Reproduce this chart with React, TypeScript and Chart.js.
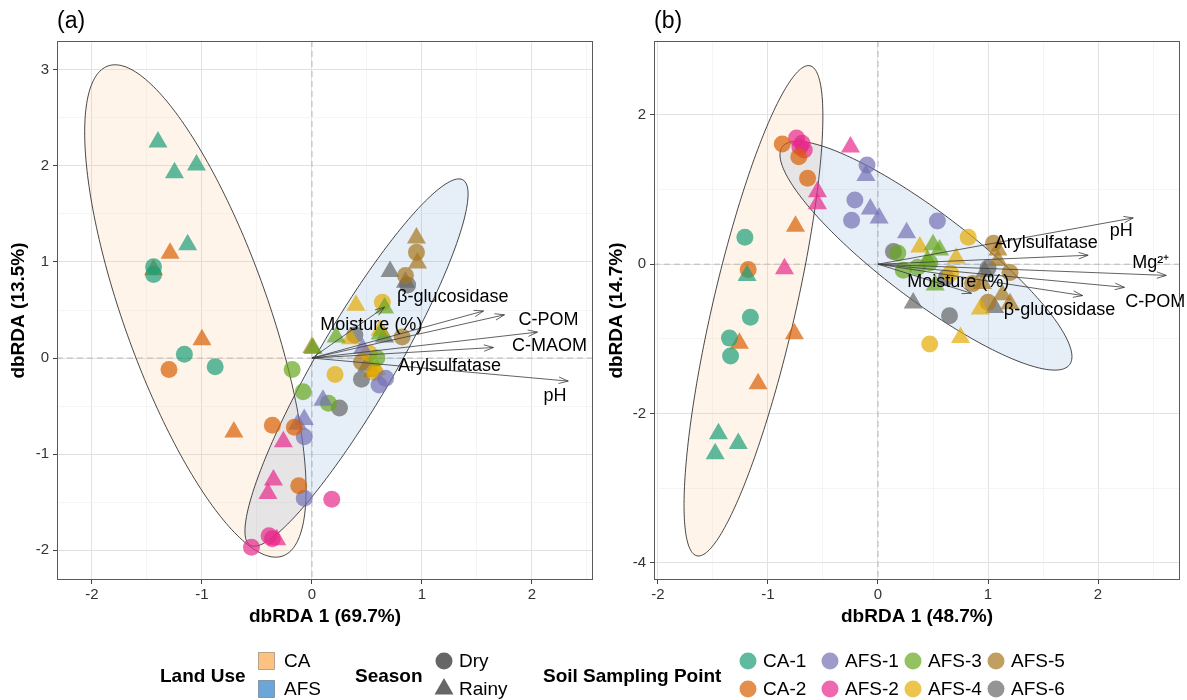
import React, { useEffect, useRef } from 'react';
import { Chart, registerables } from 'chart.js';

Chart.register(...registerables);

type Pt = [number, number, 'D' | 'R'];

const FONT = '"Liberation Sans", Arial, Helvetica, sans-serif';

const SITE_NAMES = ['CA-1', 'CA-2', 'AFS-1', 'AFS-2', 'AFS-3', 'AFS-4', 'AFS-5', 'AFS-6'];
const SITE_RGB = ['27,158,119', '217,95,2', '117,112,179', '231,41,138', '102,166,30', '230,171,2', '166,118,29', '102,102,102'];

// ---------- Panel (a) ----------
const A_CA1: Pt[] = [[-1.40, 2.25, 'R'], [-1.25, 1.93, 'R'], [-1.05, 2.01, 'R'], [-1.13, 1.18, 'R'], [-1.44, 0.95, 'D'], [-1.44, 0.87, 'D'], [-1.16, 0.04, 'D'], [-0.88, -0.09, 'D']];
const A_CA2: Pt[] = [[-1.29, 1.09, 'R'], [-1.44, 0.92, 'R'], [-1.00, 0.19, 'R'], [-0.71, -0.77, 'R'], [-1.30, -0.12, 'D'], [-0.36, -0.70, 'D'], [-0.16, -0.72, 'D'], [-0.12, -1.33, 'D']];
const A_AFS1: Pt[] = [[-0.13, -0.69, 'R'], [-0.07, -0.64, 'R'], [0.10, -0.44, 'R'], [0.46, 0.10, 'R'], [-0.07, -0.82, 'D'], [-0.07, -1.46, 'D'], [0.61, -0.28, 'D'], [0.67, -0.21, 'D']];
const A_AFS2: Pt[] = [[-0.26, -0.87, 'R'], [-0.35, -1.27, 'R'], [-0.40, -1.41, 'R'], [-0.32, -1.89, 'R'], [-0.39, -1.85, 'D'], [-0.36, -1.88, 'D'], [-0.55, -1.97, 'D'], [0.18, -1.47, 'D']];
const A_AFS3: Pt[] = [[0.01, 0.10, 'R'], [0.22, 0.22, 'R'], [0.66, 0.52, 'R'], [0.62, 0.25, 'R'], [-0.18, -0.12, 'D'], [-0.08, -0.35, 'D'], [0.15, -0.47, 'D'], [0.59, 0.00, 'D']];
const A_AFS4: Pt[] = [[0.40, 0.55, 'R'], [0.62, 0.29, 'R'], [0.35, 0.20, 'R'], [0.59, -0.12, 'R'], [0.21, -0.17, 'D'], [0.64, 0.58, 'D'], [0.57, -0.15, 'D'], [0.52, 0.05, 'D']];
const A_AFS5: Pt[] = [[0.95, 1.25, 'R'], [0.96, 0.99, 'R'], [0.00, 0.11, 'R'], [0.55, -0.14, 'R'], [0.95, 1.10, 'D'], [0.85, 0.86, 'D'], [0.82, 0.22, 'D'], [0.45, -0.04, 'D']];
const A_AFS6: Pt[] = [[0.71, 0.90, 'R'], [0.85, 0.79, 'R'], [0.66, 0.22, 'R'], [0.50, -0.08, 'R'], [0.87, 0.76, 'D'], [0.45, -0.22, 'D'], [0.25, -0.52, 'D'], [0.39, 0.24, 'D']];

const A_ARROW_NAMES = ['β-glucosidase', 'C-POM', 'C-MAOM', 'Moisture (%)', 'Arylsulfatase', 'pH'];
const A_ARROW_END = [[1.56, 0.49], [1.75, 0.45], [2.05, 0.27], [0.66, 0.53], [1.65, 0.11], [2.33, -0.24]];
const A_LABEL_POS = [[1.28, 0.63], [2.15, 0.40], [2.16, 0.13], [0.54, 0.34], [1.25, -0.08], [2.21, -0.40]];

// ellipse: [cx, cy, ux, uy, vx, vy]
const A_ELL_CA = [-1.06, 0.49, -0.795, 2.55, 0.617, 0.252];
const A_ELL_AFS = [0.405, -0.047, 0.968, 1.901, 0.303, -0.202];

// ---------- Panel (b) ----------
const B_CA1: Pt[] = [[-1.21, 0.36, 'D'], [-1.16, -0.71, 'D'], [-1.35, -0.99, 'D'], [-1.34, -1.23, 'D'], [-1.19, -0.15, 'R'], [-1.45, -2.27, 'R'], [-1.27, -2.40, 'R'], [-1.48, -2.54, 'R']];
const B_CA2: Pt[] = [[-0.87, 1.61, 'D'], [-0.72, 1.44, 'D'], [-0.64, 1.15, 'D'], [-1.18, -0.07, 'D'], [-0.75, 0.51, 'R'], [-0.76, -0.93, 'R'], [-1.26, -1.06, 'R'], [-1.09, -1.60, 'R']];
const B_AFS1: Pt[] = [[-0.10, 1.33, 'D'], [-0.21, 0.86, 'D'], [-0.24, 0.59, 'D'], [0.54, 0.58, 'D'], [-0.11, 1.19, 'R'], [-0.07, 0.74, 'R'], [0.01, 0.62, 'R'], [0.26, 0.42, 'R']];
const B_AFS2: Pt[] = [[-0.74, 1.69, 'D'], [-0.69, 1.62, 'D'], [-0.67, 1.53, 'D'], [-0.71, 1.57, 'D'], [-0.25, 1.57, 'R'], [-0.55, 0.97, 'R'], [-0.55, 0.81, 'R'], [-0.85, -0.06, 'R']];
const B_AFS3: Pt[] = [[0.18, 0.15, 'D'], [0.23, -0.08, 'D'], [0.47, 0.02, 'D'], [0.36, -0.04, 'D'], [0.50, 0.26, 'R'], [0.56, 0.19, 'R'], [0.45, 0.05, 'R'], [0.52, -0.28, 'R']];
const B_AFS4: Pt[] = [[0.82, 0.36, 'D'], [0.47, -1.07, 'D'], [0.66, -0.12, 'D'], [0.38, 0.23, 'R'], [0.71, 0.08, 'R'], [0.93, -0.60, 'R'], [0.75, -0.98, 'R']];
const B_AFS5: Pt[] = [[1.05, 0.28, 'D'], [1.20, -0.11, 'D'], [1.00, -0.51, 'D'], [0.86, -0.26, 'D'], [1.09, 0.19, 'R'], [1.09, 0.05, 'R'], [0.95, -0.26, 'R'], [1.13, -0.41, 'R'], [1.20, -0.53, 'R']];
const B_AFS6: Pt[] = [[0.14, 0.17, 'D'], [0.65, -0.69, 'D'], [1.00, -0.05, 'D'], [0.62, -0.18, 'D'], [0.32, -0.52, 'R'], [1.06, -0.58, 'R'], [0.97, -0.10, 'R']];

const B_ARROW_NAMES = ['pH', 'Arylsulfatase', 'Mg²⁺', 'C-POM', 'β-glucosidase', 'Moisture (%)'];
const B_ARROW_END = [[2.32, 0.62], [1.91, 0.12], [2.62, -0.15], [2.24, -0.31], [1.86, -0.42], [0.85, -0.39]];
const B_LABEL_POS = [[2.21, 0.44], [1.53, 0.29], [2.48, 0.01], [2.52, -0.50], [1.65, -0.62], [0.73, -0.24]];

const B_ELL_CA = [-1.132, -0.624, 0.514, 3.282, 0.366, -0.125];
const B_ELL_AFS = [0.436, 0.114, 1.305, -1.460, -0.240, -0.466];

const CA_FILL = 'rgba(253,192,134,0.175)';
const AFS_FILL = 'rgba(70,130,200,0.135)';

interface PanelCfg {
  tag: string;
  width: number;
  xMin: number; xMax: number; yMin: number; yMax: number;
  yStep: number; yMajor: number;
  xTitle: string; yTitle: string;
  yAxisWidth: number; yTitlePad: number;
  groups: Pt[][];
  ellipses: { p: number[]; fill: string }[];
  arrowEnds: number[][]; names: string[]; labelPos: number[][];
}

const PANEL_A: PanelCfg = {
  tag: '(a)', width: 600,
  xMin: -2.318, xMax: 2.555, yMin: -2.31, yMax: 3.30,
  yStep: 0.5, yMajor: 1,
  xTitle: 'dbRDA 1 (69.7%)', yTitle: 'dbRDA (13.5%)',
  yAxisWidth: 57, yTitlePad: 7,
  groups: [A_CA1, A_CA2, A_AFS1, A_AFS2, A_AFS3, A_AFS4, A_AFS5, A_AFS6],
  ellipses: [{ p: A_ELL_CA, fill: CA_FILL }, { p: A_ELL_AFS, fill: AFS_FILL }],
  arrowEnds: A_ARROW_END, names: A_ARROW_NAMES, labelPos: A_LABEL_POS,
};

const PANEL_B: PanelCfg = {
  tag: '(b)', width: 587,
  xMin: -2.036, xMax: 2.745, yMin: -4.23, yMax: 2.99,
  yStep: 1, yMajor: 2,
  xTitle: 'dbRDA 1 (48.7%)', yTitle: 'dbRDA (14.7%)',
  yAxisWidth: 54, yTitlePad: 5,
  groups: [B_CA1, B_CA2, B_AFS1, B_AFS2, B_AFS3, B_AFS4, B_AFS5, B_AFS6],
  ellipses: [{ p: B_ELL_CA, fill: CA_FILL }, { p: B_ELL_AFS, fill: AFS_FILL }],
  arrowEnds: B_ARROW_END, names: B_ARROW_NAMES, labelPos: B_LABEL_POS,
};

const isMajor = (v: number, m: number) => Math.abs(v / m - Math.round(v / m)) < 1e-6;

function decorPlugin(cfg: PanelCfg) {
  return {
    id: 'decor',
    beforeDatasetsDraw(chart: any) {
      const { ctx, chartArea: ca } = chart;
      const xs = chart.scales.x, ys = chart.scales.y;
      ctx.save();
      ctx.beginPath();
      ctx.rect(ca.left, ca.top, ca.right - ca.left, ca.bottom - ca.top);
      ctx.clip();
      // zero reference lines
      ctx.strokeStyle = '#b8b8b8';
      ctx.lineWidth = 1;
      ctx.setLineDash([6, 4]);
      ctx.beginPath();
      const x0 = xs.getPixelForValue(0);
      const y0 = ys.getPixelForValue(0);
      ctx.moveTo(x0, ca.top); ctx.lineTo(x0, ca.bottom);
      ctx.moveTo(ca.left, y0); ctx.lineTo(ca.right, y0);
      ctx.stroke();
      ctx.setLineDash([]);
      // ellipses
      for (const e of cfg.ellipses) {
        const [cx, cy, ux, uy, vx, vy] = e.p;
        ctx.beginPath();
        const N = 240;
        for (let i = 0; i <= N; i++) {
          const t = (i / N) * Math.PI * 2;
          const px = xs.getPixelForValue(cx + ux * Math.cos(t) + vx * Math.sin(t));
          const py = ys.getPixelForValue(cy + uy * Math.cos(t) + vy * Math.sin(t));
          if (i === 0) ctx.moveTo(px, py); else ctx.lineTo(px, py);
        }
        ctx.closePath();
        ctx.fillStyle = e.fill;
        ctx.fill();
        ctx.strokeStyle = '#1a1a1a';
        ctx.lineWidth = 0.8;
        ctx.stroke();
      }
      ctx.restore();
    },
    afterDatasetsDraw(chart: any) {
      const { ctx, chartArea: ca } = chart;
      const xs = chart.scales.x, ys = chart.scales.y;
      ctx.save();
      // arrows
      const ox = xs.getPixelForValue(0), oy = ys.getPixelForValue(0);
      ctx.strokeStyle = '#3a3a3a';
      ctx.lineWidth = 0.8;
      cfg.arrowEnds.forEach(([ex, ey]) => {
        const px = xs.getPixelForValue(ex), py = ys.getPixelForValue(ey);
        const ang = Math.atan2(py - oy, px - ox);
        const L = 10, a = 0.33;
        ctx.beginPath();
        ctx.moveTo(ox, oy); ctx.lineTo(px, py);
        ctx.moveTo(px - L * Math.cos(ang - a), py - L * Math.sin(ang - a));
        ctx.lineTo(px, py);
        ctx.lineTo(px - L * Math.cos(ang + a), py - L * Math.sin(ang + a));
        ctx.stroke();
      });
      // labels
      ctx.fillStyle = '#000';
      ctx.font = `18px ${FONT}`;
      ctx.textAlign = 'center';
      ctx.textBaseline = 'middle';
      cfg.names.forEach((n, i) => {
        const [lx, ly] = cfg.labelPos[i];
        ctx.fillText(n, xs.getPixelForValue(lx), ys.getPixelForValue(ly));
      });
      // panel border
      ctx.strokeStyle = '#5a5a5a';
      ctx.lineWidth = 1;
      ctx.strokeRect(ca.left + 0.5, ca.top + 0.5, ca.right - ca.left - 1, ca.bottom - ca.top - 1);
      // tag
      ctx.font = `23px ${FONT}`;
      ctx.textAlign = 'left';
      ctx.textBaseline = 'alphabetic';
      ctx.fillText(cfg.tag, ca.left, 28);
      ctx.restore();
    },
  };
}

function buildConfig(cfg: PanelCfg): any {
  const tickFont = { family: FONT, size: 15 };
  const titleFont = { family: FONT, size: 19, weight: 'bold' as const };
  const gridFor = (major: number) => ({
    color: (c: any) => (c.tick && isMajor(c.tick.value, major) ? '#e2e2e2' : '#f1f1f1'),
    lineWidth: (c: any) => (c.tick && isMajor(c.tick.value, major) ? 1 : 0.7),
    tickColor: (c: any) => (c.tick && isMajor(c.tick.value, major) ? '#444' : 'rgba(0,0,0,0)'),
    tickLength: 4,
    drawTicks: true,
  });
  return {
    type: 'scatter',
    data: {
      datasets: cfg.groups.map((g, i) => ({
        label: SITE_NAMES[i],
        data: g.map((p) => ({ x: p[0], y: p[1], s: p[2] })),
        backgroundColor: `rgba(${SITE_RGB[i]},0.7)`,
        borderWidth: 0,
        pointBorderWidth: 0,
        pointStyle: (c: any) => (c.raw && c.raw.s === 'R' ? 'triangle' : 'circle'),
        pointRadius: (c: any) => (c.raw && c.raw.s === 'R' ? 11 : 8.5),
      })),
    },
    options: {
      responsive: false,
      maintainAspectRatio: false,
      animation: false,
      events: [],
      layout: { autoPadding: false, padding: { left: 0, top: 41, right: 7, bottom: 0 } },
      plugins: { legend: { display: false }, tooltip: { enabled: false } },
      scales: {
        x: {
          type: 'linear',
          min: cfg.xMin,
          max: cfg.xMax,
          afterFit: (s: any) => { s.height = 50; s.paddingLeft = 0; s.paddingRight = 0; },
          ticks: {
            stepSize: 0.5,
            includeBounds: false,
            autoSkip: false,
            maxRotation: 0,
            padding: 2,
            color: '#333',
            font: tickFont,
            callback: (v: number) => (isMajor(v, 1) ? String(Math.round(v)) : ''),
          },
          grid: gridFor(1),
          border: { display: false },
          title: { display: true, text: cfg.xTitle, color: '#000', font: titleFont, padding: { top: 0, bottom: 2 } },
        },
        y: {
          type: 'linear',
          min: cfg.yMin,
          max: cfg.yMax,
          afterFit: (s: any) => { s.width = cfg.yAxisWidth; s.paddingTop = 0; s.paddingBottom = 0; },
          ticks: {
            stepSize: cfg.yStep,
            includeBounds: false,
            autoSkip: false,
            padding: 4,
            color: '#333',
            font: tickFont,
            callback: (v: number) => (isMajor(v, cfg.yMajor) ? String(Math.round(v)) : ''),
          },
          grid: gridFor(cfg.yMajor),
          border: { display: false },
          title: { display: true, text: cfg.yTitle, color: '#000', font: titleFont, padding: { top: cfg.yTitlePad, bottom: 0 } },
        },
      },
    },
    plugins: [decorPlugin(cfg)],
  };
}

const LEG_ROW1 = 661;
const LEG_ROW2 = 689;
const LEG_MID = 676;
const SITE_LEG_X = [748, 830, 913, 996];

function Txt(props: { x: number; y: number; text: string; bold?: boolean }) {
  return (
    <div
      style={{
        position: 'absolute',
        left: props.x,
        top: props.y - 12,
        height: 24,
        lineHeight: '24px',
        fontSize: '19px',
        fontWeight: props.bold ? 'bold' : 'normal',
        fontFamily: FONT,
        color: '#000',
        whiteSpace: 'nowrap',
      }}
    >
      {props.text}
    </div>
  );
}

function Legend() {
  const siteOrder = [0, 2, 4, 6, 1, 3, 5, 7];
  return (
    <>
      <svg width={1187} height={700} style={{ position: 'absolute', left: 0, top: 0, pointerEvents: 'none' }}>
        <rect x={258.5} y={652.5} width={16} height={17} fill="#FDC282" stroke="rgba(0,0,0,0.35)" strokeWidth={0.8} />
        <rect x={258.5} y={680.5} width={16} height={17} fill="#6CA6D8" stroke="rgba(0,0,0,0.35)" strokeWidth={0.8} />
        <circle cx={444} cy={LEG_ROW1} r={8.5} fill="rgba(0,0,0,0.6)" />
        <polygon points={`444,${LEG_ROW2 - 11} ${444 - 9.5},${LEG_ROW2 + 5.5} ${444 + 9.5},${LEG_ROW2 + 5.5}`} fill="rgba(0,0,0,0.6)" />
        {siteOrder.map((si, k) => (
          <circle key={si} cx={SITE_LEG_X[k % 4]} cy={k < 4 ? LEG_ROW1 : LEG_ROW2} r={8.5} fill={`rgba(${SITE_RGB[si]},0.7)`} />
        ))}
      </svg>
      <Txt x={160} y={LEG_MID} text="Land Use" bold />
      <Txt x={284} y={LEG_ROW1} text="CA" />
      <Txt x={284} y={LEG_ROW2} text="AFS" />
      <Txt x={355} y={LEG_MID} text="Season" bold />
      <Txt x={459} y={LEG_ROW1} text="Dry" />
      <Txt x={459} y={LEG_ROW2} text="Rainy" />
      <Txt x={543} y={LEG_MID} text="Soil Sampling Point" bold />
      {siteOrder.map((si, k) => (
        <Txt key={'t' + si} x={SITE_LEG_X[k % 4] + 15} y={k < 4 ? LEG_ROW1 : LEG_ROW2} text={SITE_NAMES[si]} />
      ))}
    </>
  );
}

export default function App() {
  const refA = useRef<HTMLCanvasElement>(null);
  const refB = useRef<HTMLCanvasElement>(null);
  useEffect(() => {
    const a = new Chart(refA.current as HTMLCanvasElement, buildConfig(PANEL_A));
    const b = new Chart(refB.current as HTMLCanvasElement, buildConfig(PANEL_B));
    return () => {
      a.destroy();
      b.destroy();
    };
  }, []);
  return (
    <div style={{ position: 'absolute', left: 0, top: 0, width: 1187, height: 700, background: '#fff', overflow: 'hidden' }}>
      <canvas ref={refA} width={PANEL_A.width} height={630} style={{ position: 'absolute', left: 0, top: 0, width: PANEL_A.width, height: 630 }} />
      <canvas ref={refB} width={PANEL_B.width} height={630} style={{ position: 'absolute', left: 600, top: 0, width: PANEL_B.width, height: 630 }} />
      <Legend />
    </div>
  );
}
